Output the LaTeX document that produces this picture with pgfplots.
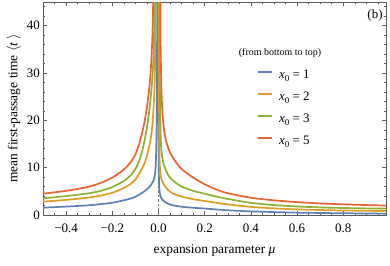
\documentclass[border=0pt]{standalone}
\usepackage{fontspec}
\setmainfont{Liberation Serif}
\usepackage{pgfplots}
\pgfplotsset{compat=1.18}
\definecolor{cB}{HTML}{5E81B5}
\definecolor{cO}{HTML}{E19C24}
\definecolor{cG}{HTML}{8FB032}
\definecolor{cR}{HTML}{EB6235}
\begin{document}
\begin{tikzpicture}
\begin{axis}[
  width=343bp, height=213bp, scale only axis,
  xmin=-0.5, xmax=0.985, ymin=0, ymax=45,
  xtick={-0.4,-0.2,0,0.2,0.4,0.6,0.8},
  xticklabels={−0.4,−0.2,0.0,0.2,0.4,0.6,0.8},
  ytick={0,10,20,30,40},
  minor xtick={-0.45,-0.35,-0.3,-0.25,-0.15,-0.1,-0.05,0.05,0.1,0.15,0.25,0.3,0.35,0.45,0.5,0.55,0.65,0.7,0.75,0.85,0.9,0.95},
  minor ytick={2,4,6,8,12,14,16,18,22,24,26,28,32,34,36,38,42,44},
  tick align=inside,
  major tick length=4bp, minor tick length=2.3bp,
  axis line style={black!65, line width=0.6bp},
  every tick/.style={black!65, line width=0.5bp},
  /pgf/number format/assume math mode=true,
  ticklabel style={font=\fontsize{13}{15}\selectfont},
  xticklabel style={anchor=base, yshift=-17bp, inner sep=0pt},
  yticklabel style={anchor=east, xshift=-3bp, inner sep=0pt},
  label style={font=\fontsize{13.5}{16}\selectfont},
  xlabel={expansion parameter \textit{μ}},
  xlabel style={at={(axis description cs:0.5,0)}, anchor=base, yshift=-38bp, inner sep=0pt},
  ylabel={mean first-passage time $\langle$\textit{t}$\,\rangle$},
  ylabel style={at={(axis description cs:-0.0749,0.5)}, anchor=base, inner sep=0pt},
  legend style={at={(axis description cs:0.624,0.68545)}, anchor=north west, draw=none, fill=none,
    inner sep=0pt, outer sep=0pt, row sep=10bp, column sep=0pt,
    font=\fontsize{13}{15}\selectfont,
    nodes={inner sep=0pt, text height=9bp, text depth=3bp}},
  legend cell align=left,
  legend image code/.code={\draw[#1, line width=2bp] (0bp,3bp) -- (14bp,3bp);},
  legend style={/tikz/every odd column/.append style={column sep=6bp}},
  every axis plot/.append style={line width=1.7bp, line join=round},
]
\addplot[black!55, line width=0.9bp, dash pattern=on 2.5bp off 2bp, forget plot] coordinates {(0,0) (0,45)};

\addplot[cB, smooth, tension=0.45] coordinates {(-0.5,1.55) (-0.45,1.66) (-0.4,1.78) (-0.35,1.91) (-0.3,2.06) (-0.25,2.3) (-0.2,2.6) (-0.15,3.1) (-0.12,3.5) (-0.1,3.85) (-0.078,4.45) (-0.056,5.2) (-0.04,5.9) (-0.028,6.7) (-0.02,7.5) (-0.015,8.7) (-0.012,10.5) (-0.01,13.5) (-0.008,19) (-0.0065,30) (-0.0055,45) (-0.005,55) (0.0003,50) (0.0008,16) (0.0015,9) (0.003,6.0) (0.006,4.6) (0.01,3.8) (0.019,3.1) (0.03,2.7) (0.045,2.3) (0.07,1.97) (0.1,1.75) (0.13,1.6) (0.2,1.36) (0.3,1.0) (0.4,0.77) (0.5,0.62) (0.6,0.5) (0.7,0.43) (0.8,0.37) (0.9,0.32) (0.985,0.28)};
\addlegendentry{\textit{x}\raisebox{-0.28em}{\fontsize{9}{9}\selectfont 0} = 1}

\addplot[cO, smooth, tension=0.45] coordinates {(-0.5,2.83) (-0.45,3.0) (-0.4,3.2) (-0.35,3.43) (-0.3,3.7) (-0.25,4.1) (-0.2,4.7) (-0.15,5.7) (-0.12,6.6) (-0.1,7.5) (-0.078,9.2) (-0.06,11.0) (-0.048,12.9) (-0.037,15.2) (-0.028,18.2) (-0.022,22) (-0.018,26) (-0.015,32) (-0.013,45) (-0.011,55) (0.0008,50) (0.0014,40) (0.003,18) (0.005,11.5) (0.009,8.5) (0.015,7.3) (0.023,6.5) (0.037,5.5) (0.06,4.6) (0.1,3.9) (0.15,3.35) (0.2,2.95) (0.25,2.6) (0.3,2.25) (0.4,1.72) (0.5,1.4) (0.6,1.18) (0.7,1.05) (0.8,0.95) (0.9,0.88) (0.985,0.84)};
\addlegendentry{\textit{x}\raisebox{-0.28em}{\fontsize{9}{9}\selectfont 0} = 2}

\addplot[cG, smooth, tension=0.45] coordinates {(-0.5,3.55) (-0.45,3.75) (-0.4,4.0) (-0.35,4.28) (-0.3,4.6) (-0.25,5.1) (-0.2,5.9) (-0.15,7.2) (-0.12,8.4) (-0.1,9.7) (-0.085,11.2) (-0.07,13.6) (-0.06,15.8) (-0.049,18.8) (-0.038,22.8) (-0.03,26.8) (-0.024,31) (-0.02,36) (-0.017,45) (-0.015,55) (0.003,50) (0.0043,40) (0.006,27) (0.009,17.5) (0.012,14) (0.016,12.3) (0.025,10.3) (0.045,8.2) (0.07,7.0) (0.1,6.0) (0.15,5.1) (0.2,4.5) (0.25,3.9) (0.3,3.4) (0.4,2.57) (0.5,2.1) (0.6,1.8) (0.7,1.6) (0.8,1.48) (0.9,1.4) (0.985,1.35)};
\addlegendentry{\textit{x}\raisebox{-0.28em}{\fontsize{9}{9}\selectfont 0} = 3}

\addplot[cR, smooth, tension=0.45] coordinates {(-0.5,4.5) (-0.45,4.8) (-0.4,5.1) (-0.35,5.5) (-0.3,6.0) (-0.25,6.8) (-0.2,7.9) (-0.15,9.6) (-0.12,11.2) (-0.1,12.8) (-0.085,14.8) (-0.071,17.3) (-0.06,19.8) (-0.05,22.8) (-0.042,25.8) (-0.035,29.5) (-0.03,33.5) (-0.026,38.5) (-0.023,45) (-0.021,52) (0.006,52) (0.0087,38) (0.012,28) (0.016,22.5) (0.022,18.8) (0.03,16.2) (0.04,14.5) (0.052,13.0) (0.075,11.2) (0.1,9.7) (0.15,7.9) (0.2,6.5) (0.25,5.4) (0.3,4.6) (0.4,3.65) (0.5,3.1) (0.6,2.72) (0.7,2.45) (0.8,2.25) (0.9,2.1) (0.985,2.0)};
\addlegendentry{\textit{x}\raisebox{-0.28em}{\fontsize{9}{9}\selectfont 0} = 5}

\node[font=\fontsize{10}{12}\selectfont, inner sep=0pt] at (axis description cs:0.691,0.761) {(from bottom to top)};
\node[font=\fontsize{13}{15}\selectfont, inner sep=0pt] at (axis description cs:0.968,0.939) {(b)};
\end{axis}
\pgfresetboundingbox
\path[use as bounding box] (-43bp,-51bp) rectangle (347bp,215bp);
\end{tikzpicture}
\end{document}
